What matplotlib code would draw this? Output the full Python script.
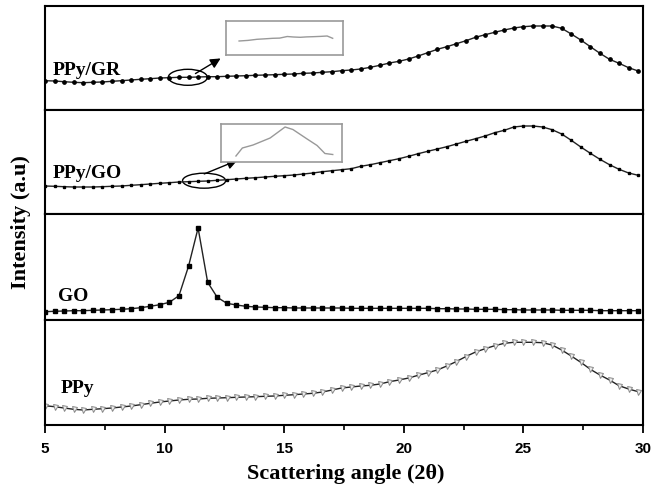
import numpy as np
import matplotlib.pyplot as plt
from matplotlib.patches import Ellipse

# scattering angle grid (2theta), same for all four patterns
two_theta = [5.0, 5.4, 5.8, 6.2, 6.6, 7.0, 7.4, 7.8, 8.2, 8.6,
             9.0, 9.4, 9.8, 10.2, 10.6, 11.0, 11.4, 11.8, 12.2, 12.6,
             13.0, 13.4, 13.8, 14.2, 14.6, 15.0, 15.4, 15.8, 16.2, 16.6,
             17.0, 17.4, 17.8, 18.2, 18.6, 19.0, 19.4, 19.8, 20.2, 20.6,
             21.0, 21.4, 21.8, 22.2, 22.6, 23.0, 23.4, 23.8, 24.2, 24.6,
             25.0, 25.4, 25.8, 26.2, 26.6, 27.0, 27.4, 27.8, 28.2, 28.6,
             29.0, 29.4, 29.8]

ppy_gr = [29.3, 29.0, 28.3, 27.7, 27.3, 27.7, 28.0, 28.7, 29.3, 30.0,
          30.7, 31.3, 32.0, 32.3, 32.7, 32.7, 33.0, 33.3, 33.3, 33.7,
          34.0, 34.3, 34.7, 35.0, 35.3, 35.7, 36.0, 36.7, 37.0, 37.7,
          38.3, 39.3, 40.0, 41.0, 42.7, 44.7, 47.0, 48.7, 51.0, 54.0,
          57.3, 60.7, 63.3, 66.3, 69.3, 72.7, 75.3, 77.7, 80.0, 82.0,
          83.3, 84.0, 84.0, 84.0, 81.7, 76.0, 70.0, 63.3, 56.7, 50.7,
          46.7, 42.3, 39.0]

ppy_go = [28.0, 27.7, 27.3, 27.0, 27.0, 27.0, 27.3, 27.7, 28.0, 28.7,
          29.3, 30.0, 30.7, 31.3, 32.0, 32.3, 32.7, 33.0, 33.7, 34.3,
          35.0, 35.7, 36.3, 37.0, 37.7, 38.3, 39.0, 40.0, 41.0, 42.3,
          43.3, 44.3, 45.3, 47.7, 49.3, 51.3, 53.3, 55.3, 57.7, 60.3,
          62.7, 65.0, 67.3, 70.0, 72.7, 75.3, 78.0, 81.3, 83.7, 87.0,
          88.0, 88.0, 87.0, 84.3, 80.0, 73.7, 67.0, 60.7, 54.7, 49.3,
          44.7, 41.0, 38.7]

go = [8.3, 8.7, 9.0, 9.3, 9.3, 9.7, 10.0, 10.3, 10.7, 11.3,
      12.3, 13.7, 15.3, 17.7, 24.3, 53.7, 92.0, 37.7, 22.7, 16.7,
      15.0, 13.7, 13.0, 12.7, 12.3, 12.3, 12.0, 12.0, 12.0, 12.0,
      12.0, 12.0, 11.7, 11.7, 11.7, 11.7, 11.7, 11.7, 11.7, 11.7,
      11.7, 11.3, 11.3, 11.0, 11.0, 10.7, 10.7, 10.7, 10.3, 10.3,
      10.0, 10.0, 10.0, 10.0, 9.7, 9.7, 9.7, 9.7, 9.3, 9.3,
      9.3, 9.3, 9.3]

ppy = [19.3, 18.3, 17.0, 15.7, 15.0, 15.7, 16.3, 17.0, 18.0, 19.0,
       20.3, 21.7, 23.0, 24.0, 25.0, 25.7, 26.0, 26.7, 27.0, 27.3,
       27.7, 28.0, 28.3, 28.7, 29.0, 29.7, 30.3, 31.0, 31.7, 33.0,
       35.0, 37.0, 38.0, 39.0, 39.7, 41.0, 43.3, 45.0, 47.0, 49.7,
       52.3, 55.0, 59.0, 63.5, 68.5, 73.0, 76.3, 79.3, 81.7, 82.7,
       82.7, 82.7, 82.3, 80.0, 75.0, 69.0, 62.7, 55.7, 50.0, 45.0,
       39.3, 36.0, 33.3]

# magnified views of the circled regions (inset boxes)
gr_zoom_x = [10.29, 10.42, 10.55, 10.67, 10.78, 10.88, 10.99, 11.08, 11.18, 11.27, 11.36, 11.47, 11.57, 11.65]
gr_zoom_y = [14.0, 14.6, 15.7, 16.2, 16.7, 16.9, 18.5, 18.0, 17.7, 18.1, 18.3, 18.6, 19.0, 16.7]
go_zoom_x = [10.41, 10.50, 10.65, 10.89, 11.10, 11.21, 11.41, 11.55, 11.66, 11.77]
go_zoom_y = [6.0, 14.0, 17.0, 24.0, 35.0, 32.5, 23.0, 16.5, 8.5, 7.5]

labels = ["PPy/GR", "PPy/GO", "GO", "PPy"]
label_pos = [(5.33, 35.0), (5.33, 36.0), (5.54, 19.3), (5.67, 32.0)]
panel_h = [104, 104, 106, 105]

serif = ['Liberation Serif', 'DejaVu Serif']
sans = ['Liberation Sans', 'DejaVu Sans']

fig = plt.figure(figsize=(6.56, 4.87), dpi=100)
gs = fig.add_gridspec(4, 1, height_ratios=panel_h, hspace=0,
                      left=45/656, right=643/656, top=1-6/487, bottom=1-425/487)
axes = [fig.add_subplot(gs[i]) for i in range(4)]

styles = [
    dict(marker='o', ms=2.4, mfc='black', mec='black'),
    dict(marker='s', ms=1.7, mfc='black', mec='black'),
    dict(marker='s', ms=2.2, mfc='black', mec='black'),
    dict(marker='v', ms=3.6, mfc='#eeeeee', mec='#888888', mew=0.7),
]
series = [ppy_gr, ppy_go, go, ppy]

for i, ax in enumerate(axes):
    ax.plot(two_theta, series[i], color='#222222', lw=1.0, **styles[i])
    ax.set_xlim(5, 30)
    ax.set_ylim(0, panel_h[i])
    ax.set_yticks([])
    for s in ax.spines.values():
        s.set_linewidth(1.5)
    ax.text(label_pos[i][0], label_pos[i][1], labels[i], family=serif,
            fontweight='bold', fontsize=14, va='baseline')
    if i < 3:
        ax.tick_params(axis='x', which='both', bottom=False, labelbottom=False)

bx = axes[3]
bx.set_xticks([5, 10, 15, 20, 25, 30])
bx.set_xticks([7.5, 12.5, 17.5, 22.5, 27.5], minor=True)
bx.tick_params(axis='x', which='major', direction='out', length=6, width=1.3, pad=6)
bx.tick_params(axis='x', which='minor', direction='out', length=3.5, width=1.2)
for t in bx.get_xticklabels():
    t.set_family(sans)
    t.set_fontweight('bold')
    t.set_fontsize(11)

# circled regions + arrows
axes[0].add_patch(Ellipse((10.97, 32.7), 1.63, 16, fill=False, ec='black', lw=1))
axes[0].annotate('', xy=(12.44, 53), xytext=(11.19, 35),
                 arrowprops=dict(arrowstyle='-|>', color='black', lw=1, mutation_scale=15))
axes[1].add_patch(Ellipse((11.65, 33.3), 1.8, 15, fill=False, ec='black', lw=1))
axes[1].annotate('', xy=(13.15, 54.7), xytext=(11.55, 39),
                 arrowprops=dict(arrowstyle='-|>', color='black', lw=1, mutation_scale=15))

# insets
ins1 = fig.add_axes([226/656, 1-55/487, 117/656, 34/487])
ins1.plot(gr_zoom_x, gr_zoom_y, color='#999999', lw=1)
ins1.set_xlim(10.1, 11.8)
ins1.set_ylim(0, 34)
ins2 = fig.add_axes([221/656, 1-162/487, 121/656, 38/487])
ins2.plot(go_zoom_x, go_zoom_y, color='#999999', lw=1)
ins2.set_xlim(10.2, 11.9)
ins2.set_ylim(0, 38)
for ins in (ins1, ins2):
    ins.set_xticks([])
    ins.set_yticks([])
    for s in ins.spines.values():
        s.set_color('#999999')
        s.set_linewidth(1.2)

fig.text(346/656, 1-479/487, 'Scattering angle (2\u03b8)', family=serif,
         fontweight='bold', fontsize=16, ha='center', va='baseline')
fig.text(21/656, 1-222/487, 'Intensity (a.u)', family=serif, fontweight='bold',
         fontsize=16, rotation=90, ha='center', va='center')

fig.savefig('out.png', dpi=100)
